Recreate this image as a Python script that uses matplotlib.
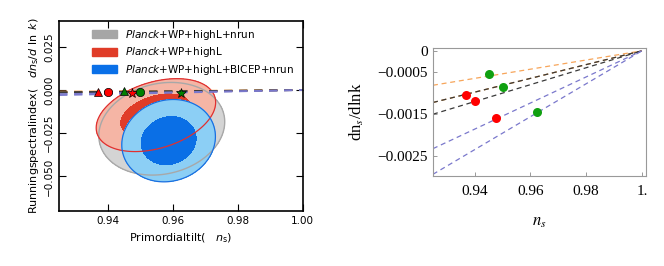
import numpy as np
import matplotlib
matplotlib.use("Agg")
import matplotlib.pyplot as plt
from matplotlib.patches import Patch

# model lines dn_s/dlnk, all meeting at (ns=1, 0); value given at ns=0.925
line_x = [0.925, 1.0]
line_y_left = [-0.00082, -0.00123, -0.00123, -0.00151, -0.00233, -0.00294]
line_colors = ['#f7a55a', '#e08a30', '#3a3a3a', '#3a3a3a', '#7a78cc', '#7a78cc']

# model points
red_ns = [0.937, 0.940, 0.9475]
red_run = [-0.00105, -0.0012, -0.0016]
green_ns = [0.945, 0.950, 0.9625]
green_run = [-0.00055, -0.00085, -0.00145]
point_markers = ['^', 'o', '*']

# Planck constraints: centre, sigma_ns, sigma_run, correlation
gray_c = (0.9566, -0.0224); gray_s = (0.0078, 0.0108); gray_rho = 0.15
red_c = (0.9548, -0.0145); red_s = (0.0074, 0.0085); red_rho = 0.35
blue_c = (0.9587, -0.0293); blue_s = (0.0058, 0.0096); blue_rho = 0.1
levels = [2.30, 6.17]

legend_labels = [r'$\it{Planck}$+WP+highL+nrun', r'$\it{Planck}$+WP+highL',
                 r'$\it{Planck}$+WP+highL+BICEP+nrun']


def chi2(X, Y, c, s, rho):
    dx = (X - c[0]) / s[0]
    dy = (Y - c[1]) / s[1]
    return (dx**2 - 2*rho*dx*dy + dy**2) / (1 - rho**2)


fig = plt.figure(figsize=(6.64, 2.66), dpi=100)

# ---- left panel
ax = fig.add_axes([0.089, 0.207, 0.367, 0.714])
gx = np.linspace(0.92, 1.0, 400)
gy = np.linspace(-0.075, 0.045, 400)
X, Y = np.meshgrid(gx, gy)
Cg = chi2(X, Y, gray_c, gray_s, gray_rho)
Cr = chi2(X, Y, red_c, red_s, red_rho)
Cb = chi2(X, Y, blue_c, blue_s, blue_rho)

ax.contourf(X, Y, Cg, levels=[0, levels[1]], colors=['#d4d4d4'])
ax.contour(X, Y, Cg, levels=[levels[1]], colors=['#a8a8a8'], linewidths=1)
ax.contourf(X, Y, Cr, levels=[0, levels[0], levels[1]], colors=['#e03c28', '#f5b5a5'])
ax.contourf(X, Y, Cb, levels=[0, levels[0], levels[1]], colors=['#0a6fe6', '#8ccff5'])
ax.contour(X, Y, Cr, levels=[levels[1]], colors=['#e03030'], linewidths=0.9)
ax.contour(X, Y, Cb, levels=[levels[1]], colors=['#1a6fe0'], linewidths=0.9)

for yl, col in zip(line_y_left, line_colors):
    ax.plot(line_x, [yl, 0], '--', color=col, lw=1.2, dashes=(5, 4))
for xs, ys, col in [(red_ns, red_run, 'red'), (green_ns, green_run, 'green')]:
    for xv, yv, m in zip(xs, ys, point_markers):
        ax.plot(xv, yv, m, color=col, mec='k', mew=0.5,
                ms=7 if m == '*' else 6, zorder=5)

ax.set_xlim(0.925, 1.0)
ax.set_ylim(-0.07, 0.04)
ax.set_xticks([0.94, 0.96, 0.98, 1.00])
ax.set_xticklabels(['0.94', '0.96', '0.98', '1.00'])
ax.set_yticks([0.025, 0.0, -0.025, -0.05])
ax.set_yticklabels(['0.025', '0.000', '\u22120.025', '\u22120.050'],
                   rotation=90, va='center')
ax.tick_params(direction='in', top=True, right=True, labelsize=7.5, length=5, width=0.8)
for sp in ax.spines.values():
    sp.set_linewidth(1.2)
ax.set_xlabel(r'Primordialtilt(   $n_{\rm s}$)', fontsize=8)
ax.set_ylabel(r'Runningspectralindex(   $dn_{\rm s}/d\ \ln\ k$)', fontsize=8, labelpad=2)

handles = [Patch(color='#a6a6a6'), Patch(color='#e03c28'), Patch(color='#0a70e8')]
ax.legend(handles, legend_labels, loc='upper left', frameon=False, fontsize=7.5,
          bbox_to_anchor=(0.135, 0.965), borderpad=0, borderaxespad=0,
          handlelength=2.4, handleheight=0.8, handletextpad=0.8,
          labelspacing=0.35)

# ---- right panel
ax2 = fig.add_axes([0.652, 0.34, 0.321, 0.48])
for yl, col in zip(line_y_left, line_colors):
    ax2.plot(line_x, [yl, 0], color=col, lw=0.9, dashes=(4, 3))
ax2.plot(red_ns, red_run, 'o', color='red', ms=6.5, mec='none', zorder=5)
ax2.plot(green_ns, green_run, 'o', color='#10a010', ms=6.5, mec='none', zorder=5)
ax2.set_xlim(0.925, 1.0015)
ax2.set_ylim(-0.00297, 0.00007)
ax2.set_xticks([0.94, 0.96, 0.98, 1.0])
ax2.set_xticklabels(['0.94', '0.96', '0.98', '1.'], family='Liberation Serif')
ax2.set_yticks([0, -0.0005, -0.0015, -0.0025])
ax2.set_yticklabels(['0', '\u22120.0005', '\u22120.0015', '\u22120.0025'],
                    family='Liberation Serif')
ax2.tick_params(direction='in', labelsize=11, length=3, color='#999999', width=0.7)
ax2.tick_params(axis='x', pad=7)
for sp in ax2.spines.values():
    sp.set_color('#999999')
    sp.set_linewidth(0.8)
ax2.set_xlabel(r'$n_s$', fontsize=12, math_fontfamily='stix', labelpad=10)
ax2.set_ylabel(r'dn$_s$/dlnk', fontsize=12, family='Liberation Serif',
               math_fontfamily='stix', labelpad=8)

fig.savefig('out.png', dpi=100)
